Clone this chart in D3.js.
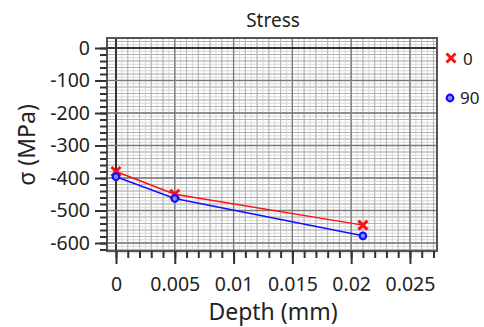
<!DOCTYPE html>
<html>
<head>
<meta charset="utf-8">
<script src="https://cdn.jsdelivr.net/npm/d3@7"></script>
<style>
  body { margin: 0; background: #fff; }
  text { font-family: "Noto Sans", sans-serif; fill: #222; }
</style>
</head>
<body>
<svg id="chart" width="484" height="327"></svg>
<script>
// depth values (mm) and stresses for both directions
var depth = [0, 0.005, 0.021];
var stress0 = [-380, -450, -545];
var stress90 = [-396, -463, -578];
var seriesNames = ["0", "90"];
var xTicks = [0, 0.005, 0.01, 0.015, 0.02, 0.025];
var yTicks = [0, -100, -200, -300, -400, -500, -600];

var svg = d3.select("#chart");

var margin = { top: 38, right: 47, bottom: 76, left: 107 },
    width = 484 - margin.left - margin.right,
    height = 327 - margin.top - margin.bottom;

var x = d3.scaleLinear().domain([-0.000765, 0.0273]).range([0, width]);
var y = d3.scaleLinear().domain([30.8, -624.6]).range([0, height]);

var g = svg.append("g")
    .attr("transform", "translate(" + margin.left + "," + margin.top + ")");

function grid(vals, vertical, color, w) {
  g.append("g").selectAll("line").data(vals).enter().append("line")
      .attr("x1", function (d) { return vertical ? x(d) : 0; })
      .attr("x2", function (d) { return vertical ? x(d) : width; })
      .attr("y1", function (d) { return vertical ? 0 : y(d); })
      .attr("y2", function (d) { return vertical ? height : y(d); })
      .attr("stroke", typeof color === "function" ? color : function () { return color; })
      .attr("stroke-width", typeof w === "function" ? w : function () { return w; });
}

// fine grid, minor grid, major grid
grid(d3.range(0, 0.0275, 0.0005), true, "#d8d8d8", 1);
grid(d3.range(20, -640, -10), false, "#d8d8d8", 1);
grid(d3.range(0, 0.0275, 0.001), true, "#b4b4b4", 1);
grid(d3.range(20, -640, -20), false, "#b4b4b4", 1);
grid(xTicks, true, function (d) { return d === 0 ? "#333" : "#7a7a7a"; },
     function (d) { return d === 0 ? 2 : 1.3; });
grid(yTicks, false, function (d) { return d === 0 ? "#333" : "#7a7a7a"; },
     function (d) { return d === 0 ? 2 : 1.3; });

// frame
g.append("rect")
    .attr("width", width).attr("height", height)
    .attr("fill", "none").attr("stroke", "#555").attr("stroke-width", 2);

// axes
var fmt = function (d) { return d === 0 ? "0" : String(+d.toFixed(3)).replace("\u2212", "-"); };
var xMinor = d3.axisBottom(x).tickValues(d3.range(0, 0.0275, 0.001))
    .tickSize(7).tickFormat("");
var xAxis = d3.axisBottom(x).tickValues(xTicks)
    .tickSize(13).tickPadding(13).tickFormat(fmt);
var yMinor = d3.axisLeft(y).tickValues(d3.range(0, -640, -20))
    .tickSize(7).tickFormat("");
var yAxis = d3.axisLeft(y).tickValues(yTicks)
    .tickSize(12).tickPadding(5).tickFormat(fmt);

function styleAxis(sel) {
  sel.select(".domain").remove();
  sel.selectAll("line").attr("stroke", "#333").attr("stroke-width", 2);
  sel.selectAll("text").style("font-size", "19.5px").attr("fill", "#222");
}

g.append("g").attr("transform", "translate(0," + height + ")").call(xMinor).call(styleAxis);
g.append("g").attr("transform", "translate(0," + height + ")").call(xAxis).call(styleAxis);
g.append("g").call(yMinor).call(styleAxis);
g.append("g").call(yAxis).call(styleAxis);

// series
var colors = ["#ff1010", "#1010ff"];
var series = [stress0, stress90];
var line = d3.line()
    .x(function (d, i) { return x(depth[i]); })
    .y(function (d) { return y(d); });

series.forEach(function (s, k) {
  g.append("path").datum(s)
      .attr("d", line)
      .attr("fill", "none").attr("stroke", colors[k]).attr("stroke-width", 1.5);
});

function cross(sel, cx, cy, c) {
  var r = 4.5;
  sel.append("path")
      .attr("d", "M" + (cx - r) + "," + (cy - r) + "L" + (cx + r) + "," + (cy + r) +
                 "M" + (cx - r) + "," + (cy + r) + "L" + (cx + r) + "," + (cy - r))
      .attr("stroke", c).attr("stroke-width", 3);
}
function dot(sel, cx, cy, c) {
  sel.append("circle").attr("cx", cx).attr("cy", cy).attr("r", 3.3)
      .attr("fill", "#8a8aff").attr("stroke", c).attr("stroke-width", 2.2);
}

stress0.forEach(function (v, i) { cross(g, x(depth[i]), y(v), colors[0]); });
stress90.forEach(function (v, i) { dot(g, x(depth[i]), y(v), colors[1]); });

// legend
var leg = svg.append("g");
cross(leg, 451, 58, colors[0]);
dot(leg, 450, 98, colors[1]);
leg.append("text").attr("x", 463).attr("y", 65).style("font-size", "17px").text(seriesNames[0]);
leg.append("text").attr("x", 460).attr("y", 104).style("font-size", "17px").text(seriesNames[1]);

// titles
svg.append("text").attr("x", 273).attr("y", 27).attr("text-anchor", "middle")
    .style("font-size", "19px").text("Stress");
svg.append("text").attr("x", 273).attr("y", 320).attr("text-anchor", "middle")
    .style("font-size", "23px").text("Depth (mm)");
svg.append("text").attr("transform", "translate(35,145) rotate(-90)")
    .attr("text-anchor", "middle").style("font-size", "23px").text("σ (MPa)");
</script>
</body>
</html>
